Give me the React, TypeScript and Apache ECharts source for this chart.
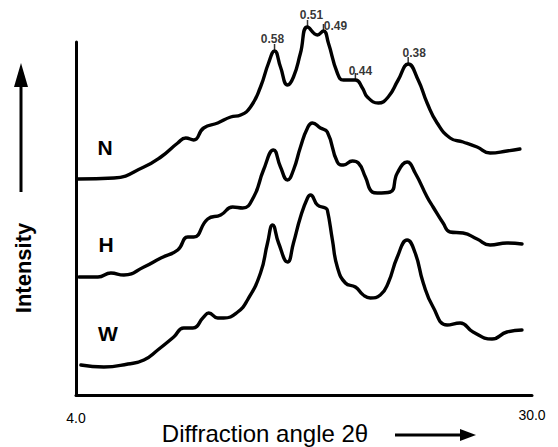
import React, { useEffect, useRef } from "react";
import * as echarts from "echarts";

// Diffraction angle 2θ (degrees) vs relative intensity (arbitrary units, curves stacked)
const nCurve: [number, number][] = [
  [4.11, 216], [6.16, 217], [7.87, 228], [8.84, 238], [9.8, 252], [10.26, 257], [10.71, 255],
  [11.28, 267], [12.08, 272], [12.82, 278], [13.39, 280], [13.95, 288], [14.52, 308], [14.98, 332],
  [15.32, 344], [15.66, 328], [16.06, 310], [16.4, 318], [16.8, 342], [17.2, 368], [17.77, 360],
  [18.11, 364], [18.39, 352], [18.9, 322], [19.25, 315], [19.93, 315], [20.33, 307], [20.61, 298],
  [21.24, 292], [21.8, 298], [22.37, 315], [22.94, 331], [23.51, 315], [24.02, 292], [24.59, 272],
  [25.33, 257], [26.07, 253], [26.87, 248], [27.61, 242], [28.57, 244], [29.31, 246],
];
const hCurve: [number, number][] = [
  [4.17, 118], [5.25, 118], [5.99, 122], [6.73, 120], [7.87, 128], [8.84, 137], [9.8, 145],
  [10.37, 158], [10.71, 158], [11.51, 176], [12.25, 180], [12.93, 188], [13.5, 187], [14.13, 198],
  [14.69, 225], [15.26, 245], [15.66, 228], [16.06, 215], [16.4, 225], [16.8, 248], [17.2, 267],
  [17.48, 272], [17.94, 267], [18.33, 263], [18.9, 233], [19.25, 230], [19.76, 234], [20.1, 232],
  [20.5, 218], [20.89, 203], [21.18, 202], [21.92, 203], [22.32, 222], [22.88, 233], [23.34, 222],
  [24.02, 198], [24.36, 188], [24.93, 172], [25.33, 163], [26.07, 162], [26.87, 156], [27.61, 150],
  [28.57, 152], [29.43, 151],
];
const wCurve: [number, number][] = [
  [4.28, 30], [5.59, 28], [6.96, 31], [7.87, 35], [8.66, 45], [9.57, 58], [10.14, 67], [10.66, 67],
  [11.28, 78], [11.57, 82], [12.08, 77], [12.42, 77], [13.22, 83], [13.78, 95], [14.52, 122],
  [14.92, 152], [15.21, 170], [15.55, 152], [16.06, 133], [16.4, 152], [16.8, 178], [17.2, 197],
  [17.37, 200], [17.77, 190], [18.22, 187], [18.33, 185], [18.62, 155], [18.9, 128], [19.36, 112],
  [19.93, 108], [20.38, 100], [20.78, 97], [21.35, 100], [21.8, 112], [22.32, 138], [22.88, 155],
  [23.34, 142], [23.8, 112], [24.36, 88], [25.16, 70], [25.9, 72], [26.64, 63], [27.72, 56],
  [28.57, 63], [29.43, 65],
];

// d-spacing peak annotations on curve N
const peakAngles = [15.32, 17.2, 18.11, 19.93, 22.94];
const peakIntensities = [344, 368, 364, 315, 331];
const peakLabels = ["0.58", "0.51", "0.49", "0.44", "0.38"];

const curveNames = ["N", "H", "W"];
const xTickLabels: Record<number, string> = { 4: "4.0", 30: "30.0" };
const xMin = 4;
const xMax = 30;
const yMin = 0;
const yMax = 353;

const FONT = "'Liberation Sans', Arial, Helvetica, sans-serif";
const labelOffsets: [number, number][] = [
  [-2, -8.5], [4, -8.5], [12, -1.5], [5, -5.5], [6, -7.5],
];
const namePositions: [number, number][] = [[105, 147], [106, 244], [108, 333]];

export default function App() {
  const ref = useRef<HTMLDivElement>(null);
  useEffect(() => {
    if (!ref.current) return;
    const chart = echarts.init(ref.current, undefined, { renderer: "svg" });
    const curves = [nCurve, hCurve, wCurve];
    const lineSeries = curves.map((data, i) => ({
      type: "line",
      name: curveNames[i],
      data,
      smooth: 0.5,
      clip: false,
      showSymbol: false,
      symbol: "none",
      lineStyle: { color: "#000", width: 3.4, join: "round", cap: "round" },
      silent: true,
    }));
    const peakSeries = {
      type: "scatter",
      clip: false,
      data: peakAngles.map((a, i) => ({
        value: [a, peakIntensities[i]],
        name: peakLabels[i],
        label: { offset: labelOffsets[i] },
      })),
      symbol: "rect",
      symbolSize: [1.5, 7],
      symbolOffset: [0, -3.5],
      itemStyle: { color: "#000" },
      label: {
        show: true,
        position: "inside",
        formatter: (p: any) => p.name,
        color: "#000",
        textBorderWidth: 0,
        fontFamily: FONT,
        fontWeight: "bold",
        fontSize: 12,
      },
      z: 5,
      silent: true,
    };

    chart.setOption({
      animation: false,
      backgroundColor: "#fff",
      grid: { left: 76, right: 26, top: 42, bottom: 52 },
      xAxis: {
        type: "value",
        min: xMin,
        max: xMax,
        axisLine: { show: true, lineStyle: { color: "#000", width: 3 } },
        axisTick: { show: false },
        splitLine: { show: false },
        axisLabel: {
          show: true,
          margin: 13,
          formatter: (v: number) =>
            v === xMin ? `{lo|${xTickLabels[v]}}` : v === xMax ? `{hi|${xTickLabels[v]}}` : "",
          rich: {
            lo: { fontFamily: FONT, fontSize: 14, color: "#000", padding: [3, 0, 0, 0] },
            hi: { fontFamily: FONT, fontSize: 14, color: "#000" },
          },
          showMinLabel: true,
          showMaxLabel: true,
        },
      },
      yAxis: {
        type: "value",
        min: yMin,
        max: yMax,
        axisLine: { show: true, lineStyle: { color: "#000", width: 3 } },
        axisTick: { show: false },
        axisLabel: { show: false },
        splitLine: { show: false },
      },
      graphic: [
        ...curveNames.map((n, i) => ({
          type: "text",
          x: namePositions[i][0],
          y: namePositions[i][1],
          style: {
            text: n,
            fill: "#000",
            font: `bold 21px ${FONT}`,
            textAlign: "center",
            textVerticalAlign: "middle",
          },
        })),
        {
          type: "text",
          x: 23,
          y: 268,
          rotation: Math.PI / 2,
          style: {
            text: "Intensity",
            fill: "#000",
            font: `bold 22px ${FONT}`,
            textAlign: "center",
            textVerticalAlign: "middle",
          },
        },
        {
          type: "line",
          shape: { x1: 21, y1: 192, x2: 21, y2: 80 },
          style: { stroke: "#000", lineWidth: 3 },
        },
        {
          type: "polygon",
          shape: { points: [[14, 87], [21, 63], [28, 87]] },
          style: { fill: "#000" },
        },
        {
          type: "text",
          x: 265,
          y: 433,
          style: {
            text: "Diffraction angle 2θ",
            fill: "#000",
            font: `24px ${FONT}`,
            textAlign: "center",
            textVerticalAlign: "middle",
          },
        },
        {
          type: "line",
          shape: { x1: 395, y1: 435, x2: 465, y2: 435 },
          style: { stroke: "#000", lineWidth: 3 },
        },
        {
          type: "polygon",
          shape: { points: [[460, 429], [476, 435], [460, 441]] },
          style: { fill: "#000" },
        },
      ],
      series: [...lineSeries, peakSeries],
    });
    return () => chart.dispose();
  }, []);
  return (
    <div
      ref={ref}
      style={{ position: "fixed", left: 0, top: 0, width: 558, height: 447, background: "#fff" }}
    />
  );
}
